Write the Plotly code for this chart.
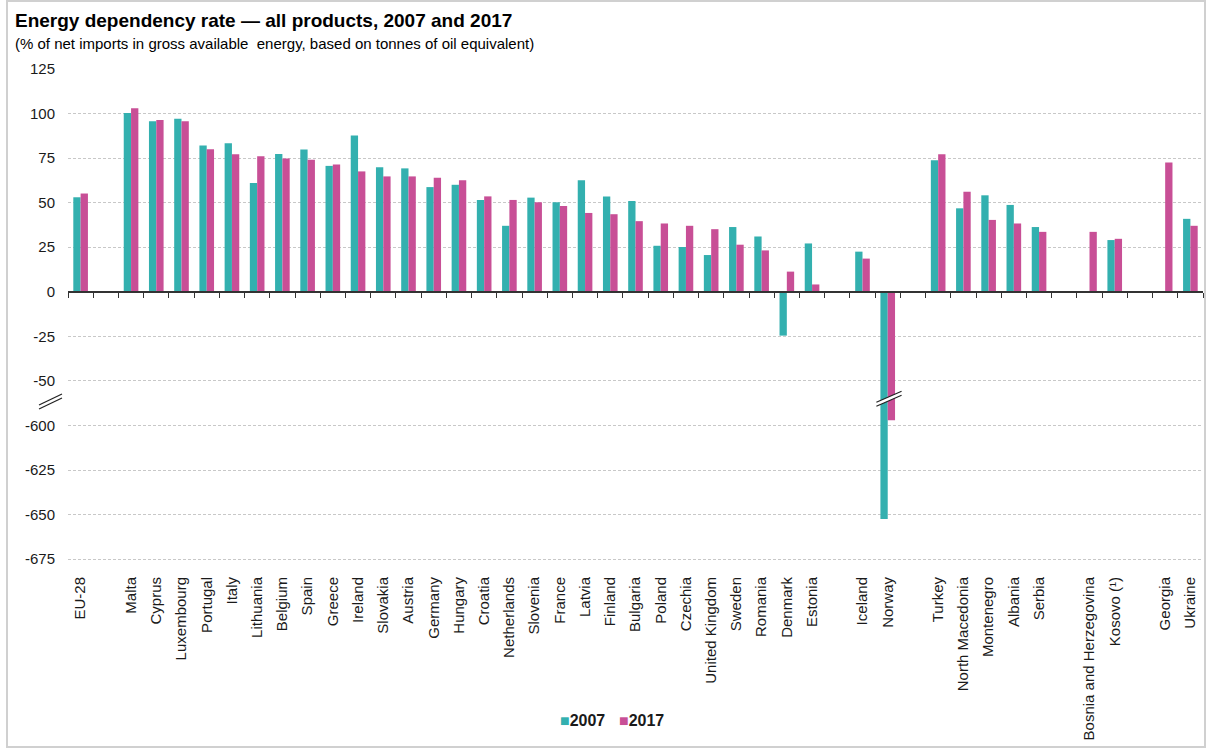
import plotly.graph_objects as go

# ---------------- data ----------------
countries = ["EU-28", "Malta", "Cyprus", "Luxembourg", "Portugal", "Italy", "Lithuania",
             "Belgium", "Spain", "Greece", "Ireland", "Slovakia", "Austria", "Germany",
             "Hungary", "Croatia", "Netherlands", "Slovenia", "France", "Latvia", "Finland",
             "Bulgaria", "Poland", "Czechia", "United Kingdom", "Sweden", "Romania",
             "Denmark", "Estonia", "Iceland", "Norway", "Turkey", "North Macedonia",
             "Montenegro", "Albania", "Serbia", "Bosnia and Herzegovina", "Kosovo (¹)",
             "Georgia", "Ukraine"]
gap_after = ["EU-28", "Estonia", "Norway", "Serbia", "Kosovo (¹)"]

v2007 = [53.0, 100.2, 95.6, 97.0, 82.0, 83.3, 61.0, 77.3, 79.8, 70.6,
         87.7, 69.9, 69.2, 58.7, 60.0, 51.5, 37.0, 52.8, 50.2, 62.6,
         53.5, 50.9, 25.8, 25.1, 20.6, 36.3, 31.0, -24.6, 27.1,
         22.5, -652.4, 73.8, 46.8, 54.1, 48.7, 36.3, None, 29.0, None, 40.9]
v2017 = [55.1, 102.9, 96.3, 95.7, 79.9, 77.1, 76.0, 74.7, 74.0, 71.4,
         67.5, 64.7, 64.7, 64.0, 62.6, 53.5, 51.5, 50.2, 48.1, 44.2,
         43.5, 39.6, 38.3, 37.0, 35.1, 26.4, 23.2, 11.3, 4.1,
         18.6, -597.0, 77.1, 56.1, 40.3, 38.3, 33.6, 33.6, 29.7, 72.5, 37.0]

series_names = ["2007", "2017"]
ytick_values = [125, 100, 75, 50, 25, 0, -25, -50, -600, -625, -650, -675]

# ---------------- helpers ----------------
BREAK_SHIFT = 525  # values below the axis break are shifted up by this amount


def tr(v):
    if v is None:
        return None
    return v + BREAK_SHIFT if v < -300 else v


# category slots with blank gaps
slots, vals07, vals17, real07, real17 = [], [], [], [], []
gap_n = 0
for c, a, b in zip(countries, v2007, v2017):
    slots.append(c)
    vals07.append(tr(a)); vals17.append(tr(b))
    real07.append(a); real17.append(b)
    if c in gap_after:
        gap_n += 1
        slots.append(" " * gap_n)
        vals07.append(None); vals17.append(None)
        real07.append(None); real17.append(None)

N = len(slots)

# layout geometry (pixels)
Wfig, Hfig = 1207, 749
L, R, T, B = 68, 1203, 68, 561
W, H = R - L, B - T
YMIN, YMAX = -151.0, 125.5


def fx(px):
    return (px - L) / W


def fy(py):
    return (B - py) / H


TEAL = "#33B0AF"
PINK = "#C84F96"
FONT = "Liberation Sans, Arial, sans-serif"

fig = go.Figure()
fig.add_trace(go.Bar(
    x=slots, y=vals07, name=series_names[0], marker=dict(color=TEAL, line=dict(width=0)),
    customdata=real07, hovertemplate="%{x}<br>2007: %{customdata}<extra></extra>"))
fig.add_trace(go.Bar(
    x=slots, y=vals17, name=series_names[1], marker=dict(color=PINK, line=dict(width=0)),
    customdata=real17, hovertemplate="%{x}<br>2017: %{customdata}<extra></extra>"))
# dummy trace to activate the zero-line axis carrying boundary tick marks
fig.add_trace(go.Scatter(x=[0], y=[None], xaxis="x2", yaxis="y", mode="markers",
                         showlegend=False, hoverinfo="skip"))

# break marks
shapes = []
ni = slots.index("Norway")
x0, x1 = ni - 0.45, ni + 0.55
ya0, ya1 = -62.0, -55.8
yb0, yb1 = -64.2, -58.0
shapes.append(dict(type="path", xref="x2", yref="y",
                   path=f"M {x0},{ya0} L {x1},{ya1} L {x1},{yb1} L {x0},{yb0} Z",
                   fillcolor="white", line=dict(width=0), layer="above"))
shapes.append(dict(type="line", xref="x2", yref="y", x0=x0, y0=ya0, x1=x1, y1=ya1,
                   line=dict(color="#222222", width=1.2), layer="above"))
shapes.append(dict(type="line", xref="x2", yref="y", x0=x0, y0=yb0, x1=x1, y1=yb1,
                   line=dict(color="#222222", width=1.2), layer="above"))
# axis break
for dy in (0, 4):
    shapes.append(dict(type="line", xref="paper", yref="paper",
                       x0=fx(39), y0=fy(405 + dy), x1=fx(62), y1=fy(394 + dy),
                       line=dict(color="#222222", width=1.2)))
# outer frame
shapes.append(dict(type="rect", xref="paper", yref="paper",
                   x0=fx(7), y0=fy(747), x1=fx(1205), y1=fy(1),
                   line=dict(color="#D0D0D0", width=2), layer="below"))

annotations = [
    dict(text="<b>Energy dependency rate — all products, 2007 and 2017</b>",
         xref="paper", yref="paper", x=fx(13), y=fy(20), xanchor="left", yanchor="middle",
         showarrow=False, font=dict(size=19, color="#000000", family=FONT)),
    dict(text="(% of net imports in gross available  energy, based on tonnes of oil equivalent)",
         xref="paper", yref="paper", x=fx(13), y=fy(43), xanchor="left", yanchor="middle",
         showarrow=False, font=dict(size=15, color="#000000", family=FONT)),
]
# legend (drawn as text with coloured squares)
for name, col, lx in zip(series_names, [TEAL, PINK], [558, 617]):
    annotations.append(dict(
        text=f"<span style='color:{col}'>■</span><b>{name}</b>",
        xref="paper", yref="paper", x=fx(lx), y=fy(720), xanchor="left", yanchor="middle",
        showarrow=False, font=dict(size=16, color="#1a1a1a", family=FONT)))

fig.update_layout(
    width=Wfig, height=Hfig,
    margin=dict(l=L, r=Wfig - R, t=T, b=Hfig - B, pad=0),
    paper_bgcolor="white", plot_bgcolor="white",
    font=dict(family=FONT, color="#1a1a1a", size=13),
    barmode="group", bargap=0.42, bargroupgap=0,
    showlegend=False,
    xaxis=dict(type="category", categoryorder="array", categoryarray=slots,
               range=[-0.5, N - 0.5], showgrid=False, zeroline=False, showline=False,
               ticks="outside", ticklen=9, tickcolor="rgba(0,0,0,0)", tickangle=-90,
               tickfont=dict(size=15, color="#1a1a1a")),
    xaxis2=dict(overlaying="x", anchor="free", position=(0 - YMIN) / (YMAX - YMIN),
                range=[-0.5, N - 0.5], tickmode="array",
                tickvals=[i - 0.5 for i in range(N + 1)], ticks="outside", ticklen=5,
                tickwidth=1.2, tickcolor="#333333", showticklabels=False,
                showline=True, linecolor="#333333", linewidth=1.5,
                showgrid=False, zeroline=False),
    yaxis=dict(range=[YMIN, YMAX], tickmode="array",
               tickvals=[tr(v) for v in ytick_values],
               ticktext=[str(v) for v in ytick_values],
               showgrid=True, gridcolor="#C8C8C8", griddash="3px,2px", gridwidth=1,
               zeroline=False, showline=False, ticks="", ticklabelstandoff=12,
               tickfont=dict(size=15, color="#1a1a1a")),
    shapes=shapes, annotations=annotations,
)

fig.write_html("out.html")
